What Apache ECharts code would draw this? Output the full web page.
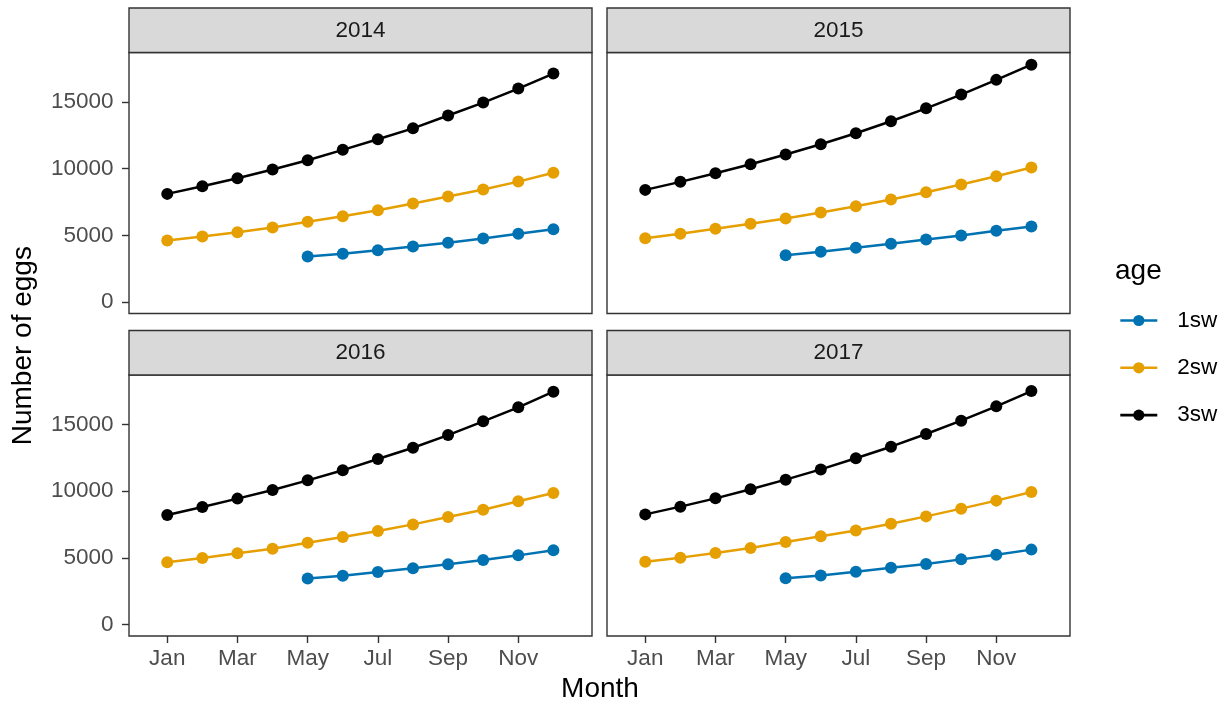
<!DOCTYPE html>
<html>
<head>
<meta charset="utf-8">
<title>Number of eggs by month</title>
<script src="https://cdn.jsdelivr.net/npm/echarts@6/dist/echarts.min.js"></script>
<style>
  html, body { margin: 0; padding: 0; background: #ffffff; }
  #chart { width: 1226px; height: 711px; }
</style>
</head>
<body>
<div id="chart"></div>
<script>
// Month axis
const monthNames = ['Jan', 'Feb', 'Mar', 'Apr', 'May', 'Jun', 'Jul', 'Aug', 'Sep', 'Oct', 'Nov', 'Dec'];
const monthNum = [1, 2, 3, 4, 5, 6, 7, 8, 9, 10, 11, 12];
const monthTicks = [1, 3, 5, 7, 9, 11];
const eggTicks = [0, 5000, 10000, 15000];

// Facets and age groups
const years = ['2014', '2015', '2016', '2017'];
const ages = ['1sw', '2sw', '3sw'];
const ageColors = ['#0072B2', '#E69F00', '#000000'];

// Number of eggs per month (1sw starts in May)
const eggs2014_1sw = [null, null, null, null, 3420, 3620, 3890, 4170, 4450, 4770, 5120, 5460];
const eggs2014_2sw = [4620, 4920, 5240, 5590, 6020, 6440, 6890, 7390, 7910, 8440, 9030, 9690];
const eggs2014_3sw = [8110, 8680, 9280, 9930, 10630, 11410, 12200, 13020, 13980, 14950, 16000, 17120];

const eggs2015_1sw = [null, null, null, null, 3520, 3770, 4070, 4370, 4690, 4990, 5340, 5670];
const eggs2015_2sw = [4790, 5120, 5490, 5870, 6270, 6710, 7190, 7690, 8230, 8810, 9430, 10080];
const eggs2015_3sw = [8410, 9010, 9660, 10330, 11060, 11830, 12650, 13550, 14520, 15550, 16650, 17790];

const eggs2016_1sw = [null, null, null, null, 3450, 3670, 3940, 4220, 4520, 4840, 5190, 5570];
const eggs2016_2sw = [4670, 4990, 5340, 5690, 6140, 6570, 7010, 7510, 8060, 8610, 9240, 9860];
const eggs2016_3sw = [8210, 8810, 9440, 10090, 10810, 11560, 12410, 13250, 14200, 15230, 16280, 17450];

const eggs2017_1sw = [null, null, null, null, 3470, 3690, 3970, 4270, 4540, 4890, 5240, 5620];
const eggs2017_2sw = [4720, 5020, 5370, 5740, 6190, 6620, 7060, 7560, 8110, 8690, 9290, 9940];
const eggs2017_3sw = [8260, 8840, 9460, 10140, 10860, 11630, 12460, 13330, 14280, 15280, 16350, 17500];

const eggsByYear = [
  [eggs2014_1sw, eggs2014_2sw, eggs2014_3sw],
  [eggs2015_1sw, eggs2015_2sw, eggs2015_3sw],
  [eggs2016_1sw, eggs2016_2sw, eggs2016_3sw],
  [eggs2017_1sw, eggs2017_2sw, eggs2017_3sw]
];

// Panel geometry (2 x 2 facets)
const FONT = '"Liberation Sans", Arial, Helvetica, sans-serif';
const TEXT_SIZE = 22.5, TITLE_SIZE = 28;
const panelW = 463, panelH = 261;
const colLeft = [129, 607];
const rowTop = [52.5, 375];
const stripH = 44.5;
const frameColor = '#333333';

const grids = [], xAxes = [], yAxes = [], series = [], graphics = [];

years.forEach(function (year, p) {
  const col = p % 2, row = Math.floor(p / 2);
  const left = colLeft[col], top = rowTop[row];
  grids.push({
    left: left, top: top, width: panelW, height: panelH,
    show: true, borderColor: frameColor, borderWidth: 1.4, backgroundColor: '#ffffff'
  });
  const bottomRow = row === 1, leftCol = col === 0;
  xAxes.push({
    type: 'value', gridIndex: p, min: -0.09, max: 13.1, position: 'bottom',
    splitLine: { show: false },
    axisLine: { show: false, onZero: false },
    axisTick: { show: bottomRow, customValues: monthTicks, length: 7, lineStyle: { color: frameColor, width: 1.4 } },
    axisLabel: {
      show: bottomRow, customValues: monthTicks, margin: 11,
      color: '#4D4D4D', fontSize: TEXT_SIZE, fontFamily: FONT,
      formatter: function (v) { return monthNames[Math.round(v) - 1] || ''; }
    }
  });
  yAxes.push({
    type: 'value', gridIndex: p, min: -850, max: 18700, position: 'left',
    splitLine: { show: false },
    axisLine: { show: false, onZero: false },
    axisTick: { show: leftCol, customValues: eggTicks, length: 7, lineStyle: { color: frameColor, width: 1.4 } },
    axisLabel: {
      show: leftCol, customValues: eggTicks, margin: 15.5,
      color: '#4D4D4D', fontSize: TEXT_SIZE, fontFamily: FONT,
      formatter: function (v) { return String(Math.round(v)); }
    }
  });
  ages.forEach(function (age, a) {
    const vals = eggsByYear[p][a];
    const pts = [];
    vals.forEach(function (v, i) { if (v !== null) pts.push([monthNum[i], v]); });
    series.push({
      name: age, type: 'line', xAxisIndex: p, yAxisIndex: p,
      data: pts, symbol: 'circle', symbolSize: 12, showSymbol: true,
      lineStyle: { color: ageColors[a], width: 2.5 },
      itemStyle: { color: ageColors[a] },
      emphasis: { disabled: true }, animation: false, z: 2 + a
    });
  });
  // facet strip
  graphics.push({
    type: 'rect', z: 10,
    shape: { x: left, y: top - stripH, width: panelW, height: stripH },
    style: { fill: '#D9D9D9', stroke: frameColor, lineWidth: 1.4 }
  });
  graphics.push({
    type: 'text', z: 11,
    x: left + panelW / 2, y: top - stripH / 2 + 0.5,
    style: { text: year, fill: '#1A1A1A', font: TEXT_SIZE + 'px ' + FONT, align: 'center', verticalAlign: 'middle' }
  });
});

// Axis titles
graphics.push({
  type: 'text', x: 600, y: 689,
  style: { text: 'Month', fill: '#000000', font: TITLE_SIZE + 'px ' + FONT, align: 'center', verticalAlign: 'middle' }
});
graphics.push({
  type: 'text', x: 23.6, y: 345.7, rotation: Math.PI / 2,
  style: { text: 'Number of eggs', fill: '#000000', font: TITLE_SIZE + 'px ' + FONT, align: 'center', verticalAlign: 'middle' }
});

const chart = echarts.init(document.getElementById('chart'), null, { renderer: 'canvas' });
chart.setOption({
  backgroundColor: '#ffffff',
  animation: false,
  title: {
    text: 'age', left: 1115, top: 257, padding: 0,
    textStyle: { fontSize: TITLE_SIZE, fontWeight: 'normal', color: '#000000', fontFamily: FONT }
  },
  legend: {
    data: ages, orient: 'vertical', left: 1119, top: 309, padding: 0,
    itemWidth: 37, itemHeight: 14, itemGap: 24.3,
    selectedMode: false,
    lineStyle: { width: 2.6 },
    textStyle: { fontSize: TEXT_SIZE, lineHeight: 22, color: '#000000', fontFamily: FONT, padding: [0, 0, 0, 15] }
  },
  grid: grids,
  xAxis: xAxes,
  yAxis: yAxes,
  series: series,
  graphic: graphics
});
</script>
</body>
</html>
